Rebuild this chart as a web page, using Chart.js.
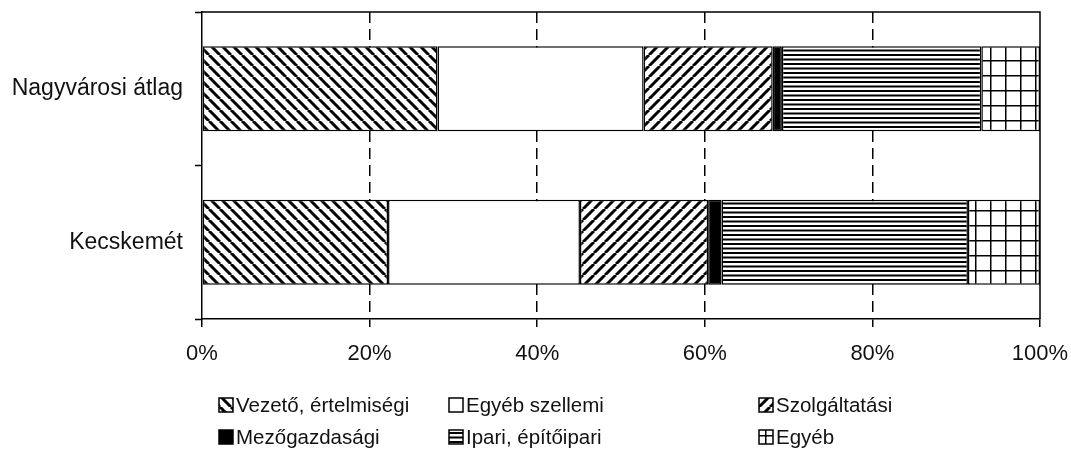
<!DOCTYPE html>
<html>
<head>
<meta charset="utf-8">
<script src="https://cdn.jsdelivr.net/npm/chart.js@4"></script>
<style>
  body { margin: 0; background: #fff; }
</style>
</head>
<body>
<canvas id="chart" width="1071" height="450"></canvas>
<script>
const categories = ['Nagyvárosi átlag', 'Kecskemét'];
const seriesNames = ['Vezető, értelmiségi', 'Egyéb szellemi', 'Szolgáltatási', 'Mezőgazdasági', 'Ipari, építőipari', 'Egyéb'];
const vezeto = [28.1, 22.2];
const egyebSzellemi = [24.6, 22.9];
const szolgaltatasi = [15.4, 15.3];
const mezogazdasagi = [1.1, 1.6];
const ipari = [23.8, 29.4];
const egyeb = [7.0, 8.6];
const xTicks = [0, 20, 40, 60, 80, 100];

const FONT = "'Liberation Sans', Arial, sans-serif";

// hatch fills like the old office charts
function makePattern(kind) {
  const c = document.createElement('canvas');
  let ctx;
  if (kind == 'back' || kind == 'slash') {
    const s = 11;
    c.width = s; c.height = s;
    ctx = c.getContext('2d');
    ctx.fillStyle = '#fff';
    ctx.fillRect(0, 0, s, s);
    ctx.strokeStyle = '#000';
    ctx.lineWidth = 3;
    ctx.beginPath();
    for (let k = -s; k <= s; k += s) {
      if (kind == 'back') { ctx.moveTo(k, 0); ctx.lineTo(k + s, s); }
      else { ctx.moveTo(k, s); ctx.lineTo(k + s, 0); }
    }
    ctx.stroke();
  } else if (kind == 'horiz') {
    c.width = 9; c.height = 9;
    ctx = c.getContext('2d');
    ctx.fillStyle = '#fff';
    ctx.fillRect(0, 0, 9, 9);
    ctx.fillStyle = '#000';
    ctx.fillRect(0, 0, 9, 2);
    ctx.fillRect(0, 4.5, 9, 2);
  } else {
    c.width = 15; c.height = 15;
    ctx = c.getContext('2d');
    ctx.fillStyle = '#fff';
    ctx.fillRect(0, 0, 15, 15);
    ctx.fillStyle = '#000';
    ctx.fillRect(0, 0, 1.5, 15);
    ctx.fillRect(0, 0, 15, 1.5);
  }
  return ctx.createPattern(c, 'repeat');
}

const fills = [makePattern('back'), '#fff', makePattern('slash'), '#000', makePattern('horiz'), makePattern('grid')];
const seriesData = [vezeto, egyebSzellemi, szolgaltatasi, mezogazdasagi, ipari, egyeb];

const frame = {
  id: 'frame',
  afterDraw(chart) {
    const a = chart.chartArea;
    const ctx = chart.ctx;
    ctx.save();
    ctx.strokeStyle = '#000';
    ctx.lineWidth = 1.5;
    ctx.beginPath();
    ctx.moveTo(a.left, a.top);
    ctx.lineTo(a.right, a.top);
    ctx.lineTo(a.right, a.bottom);
    ctx.stroke();
    ctx.restore();
  }
};

const legendGrid = {
  id: 'legendGrid',
  afterDraw(chart) {
    const ctx = chart.ctx;
    const colX = [219, 449, 759];
    const rowY = [405, 437];
    ctx.save();
    ctx.font = '20.5px ' + FONT;
    ctx.textBaseline = 'middle';
    chart.data.datasets.forEach(function(ds, i) {
      const x = colX[i % 3];
      const y = rowY[Math.floor(i / 3)];
      ctx.fillStyle = ds.backgroundColor;
      ctx.fillRect(x, y - 7, 14, 14);
      ctx.strokeStyle = '#000';
      ctx.lineWidth = 1.5;
      ctx.strokeRect(x, y - 7, 14, 14);
      ctx.fillStyle = '#111';
      ctx.fillText(ds.label, x + 17, y + 1);
    });
    ctx.restore();
  }
};

new Chart(document.getElementById('chart'), {
  type: 'bar',
  data: {
    labels: categories,
    datasets: seriesNames.map(function(name, i) {
      return {
        label: name,
        data: seriesData[i],
        backgroundColor: fills[i],
        borderColor: '#000',
        borderWidth: 1.5,
        borderSkipped: false,
        barPercentage: 0.555,
        categoryPercentage: 1
      };
    })
  },
  options: {
    indexAxis: 'y',
    responsive: false,
    animation: false,
    devicePixelRatio: 1,
    layout: { padding: { top: 12, right: 31, bottom: 81, left: 0 } },
    plugins: { legend: { display: false }, tooltip: { enabled: false } },
    scales: {
      x: {
        stacked: true,
        min: 0,
        max: 100,
        afterBuildTicks: function(s) { s.ticks = xTicks.map(v => ({ value: v })); },
        afterFit: function(s) { s.height = 50; s.paddingLeft = 0; s.paddingRight = 0; },
        ticks: {
          callback: v => v + '%',
          color: '#111',
          padding: 14,
          maxRotation: 0,
          font: { family: FONT, size: 22 }
        },
        grid: {
          color: c => (c.tick && (c.tick.value === 0 || c.tick.value === 100)) ? 'rgba(0,0,0,0)' : '#000',
          lineWidth: 1.5,
          tickColor: '#000',
          tickWidth: 1.5,
          tickLength: 8
        },
        border: { display: true, color: '#000', width: 1.5, dash: [11, 6] }
      },
      y: {
        stacked: true,
        afterFit: function(s) { s.width = 202; s.paddingTop = 0; s.paddingBottom = 0; },
        ticks: {
          color: '#111',
          padding: 12,
          font: { family: FONT, size: 23 }
        },
        grid: {
          offset: true,
          drawOnChartArea: false,
          tickColor: '#000',
          tickWidth: 1.5,
          tickLength: 7
        },
        border: { display: true, color: '#000', width: 1.5 }
      }
    }
  },
  plugins: [frame, legendGrid]
});
</script>
</body>
</html>
